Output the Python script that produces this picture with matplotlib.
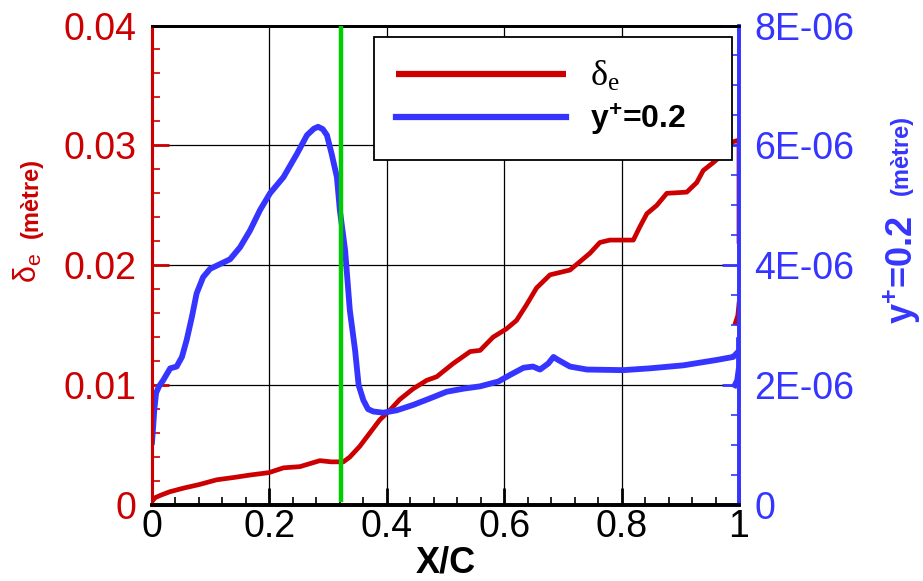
import numpy as np
import matplotlib
matplotlib.use("Agg")
import matplotlib.pyplot as plt
from matplotlib.ticker import MultipleLocator, AutoMinorLocator, FuncFormatter

plt.rcParams['font.family'] = ['Liberation Sans', 'DejaVu Sans']

# delta_e (left axis, metre)
red_x = [0.0, 0.005, 0.014, 0.03, 0.053, 0.08, 0.11, 0.14, 0.167, 0.199, 0.224, 0.252,
         0.286, 0.305, 0.326, 0.337, 0.354, 0.371, 0.388, 0.405, 0.422, 0.445, 0.468,
         0.485, 0.513, 0.542, 0.559, 0.581, 0.604, 0.621, 0.638, 0.655, 0.678, 0.712,
         0.729, 0.746, 0.763, 0.780, 0.820, 0.831, 0.843, 0.860, 0.877, 0.911, 0.928,
         0.939, 0.957, 0.971, 0.979, 0.990, 0.997, 1.0, 1.0]
red_y = [0.0003, 0.0006, 0.0008, 0.0011, 0.0014, 0.0017, 0.0021, 0.0023, 0.0025, 0.0027,
         0.0031, 0.0032, 0.0037, 0.0036, 0.0036, 0.0040, 0.0049, 0.0060, 0.0071, 0.0079,
         0.0088, 0.0097, 0.0104, 0.0107, 0.0118, 0.0128, 0.0129, 0.0140, 0.0147, 0.0154,
         0.0167, 0.0181, 0.0192, 0.0196, 0.0203, 0.0210, 0.0219, 0.0221, 0.0221, 0.0232,
         0.0243, 0.0250, 0.0260, 0.0261, 0.0269, 0.0279, 0.0286, 0.0292, 0.0300, 0.0303,
         0.0304, 0.0304, 0.0218]
red_te_x = [0.994, 0.998, 1.0]
red_te_y = [0.0152, 0.0158, 0.0168]

# y+=0.2 (right axis, metre)
blue_x = [0.0, 0.002, 0.004, 0.007, 0.012, 0.019, 0.031, 0.042, 0.051, 0.059, 0.068, 0.076,
          0.087, 0.099, 0.116, 0.133, 0.150, 0.167, 0.184, 0.201, 0.224, 0.247, 0.264,
          0.276, 0.283, 0.291, 0.298, 0.306, 0.315, 0.320, 0.329, 0.337, 0.346, 0.352,
          0.360, 0.368, 0.377, 0.394, 0.417, 0.445, 0.474, 0.502, 0.530, 0.559, 0.590,
          0.610, 0.633, 0.649, 0.661, 0.675, 0.684, 0.692, 0.712, 0.741, 0.803, 0.848,
          0.905, 0.962, 0.990, 0.996]
blue_y = np.array([1.05, 1.31, 1.60, 1.87, 1.98, 2.08, 2.28, 2.31, 2.47, 2.75, 3.14, 3.53,
                   3.80, 3.94, 4.02, 4.10, 4.30, 4.58, 4.92, 5.20, 5.47, 5.86, 6.17,
                   6.28, 6.31, 6.27, 6.17, 5.86, 5.47, 4.92, 4.25, 3.25, 2.58, 2.00,
                   1.75, 1.60, 1.56, 1.54, 1.58, 1.67, 1.78, 1.89, 1.94, 1.98, 2.06,
                   2.17, 2.29, 2.31, 2.26, 2.36, 2.47, 2.42, 2.31, 2.26, 2.25, 2.28,
                   2.33, 2.42, 2.47, 2.53]) * 1e-6
blue_te_x = [0.993, 0.997, 1.0, 1.0]
blue_te_y = np.array([2.0, 2.08, 2.3, 2.75]) * 1e-6

sep_x = 0.322

red = '#cc0000'
blue = '#3535ff'
green = '#00cc00'

fig = plt.figure(figsize=(9.23, 5.81), dpi=100)
ax = fig.add_axes([152/923, 1-505/581, 587/923, 479.5/581])
ax2 = ax.twinx()

l1, = ax.plot(red_x, red_y, color=red, lw=3.4, solid_capstyle='butt')
ax.plot(red_te_x, red_te_y, color=red, lw=3.4)
l2, = ax2.plot(blue_x, blue_y, color=blue, lw=4.2)
ax2.plot(blue_te_x, blue_te_y, color=blue, lw=4.2)
ax2.axvline(sep_x, ymin=0.01, ymax=1, color=green, lw=3.2, zorder=5)

ax.set_xlim(0, 1)
ax.set_ylim(0, 0.04)
ax2.set_ylim(0, 8e-6)

ax.xaxis.set_major_locator(MultipleLocator(0.2))
ax.xaxis.set_minor_locator(AutoMinorLocator(5))
ax.yaxis.set_major_locator(MultipleLocator(0.01))
ax.yaxis.set_minor_locator(AutoMinorLocator(5))
ax2.yaxis.set_major_locator(MultipleLocator(2e-6))
ax2.yaxis.set_minor_locator(AutoMinorLocator(4))

ax.xaxis.set_major_formatter(FuncFormatter(lambda v, p: '%g' % round(v, 3)))
ax.yaxis.set_major_formatter(FuncFormatter(lambda v, p: '%g' % round(v, 4)))
ax2.yaxis.set_major_formatter(FuncFormatter(lambda v, p: '0' if abs(v) < 1e-12 else '%.0E' % v))

ax.grid(True, which='major', color='black', lw=0.9)

ax.tick_params(axis='x', which='both', direction='in', colors='black', labelsize=27, pad=3)
ax.tick_params(axis='x', which='major', length=12, width=2)
ax.tick_params(axis='x', which='minor', length=6, width=1.2)
ax.tick_params(axis='y', which='both', direction='in', colors=red, labelsize=27, pad=11)
ax.tick_params(axis='y', which='major', length=12, width=2)
ax.tick_params(axis='y', which='minor', length=6, width=1.2)
ax2.tick_params(axis='y', which='both', direction='in', colors=blue, labelsize=27, pad=11)
ax2.tick_params(axis='y', which='major', length=12, width=2)
ax2.tick_params(axis='y', which='minor', length=6, width=1.2)

for a in (ax, ax2):
    a.spines['left'].set_color(red)
    a.spines['right'].set_color(blue)
    a.spines['top'].set_color('black')
    a.spines['bottom'].set_color('black')
    a.spines['left'].set_linewidth(2.2)
    a.spines['right'].set_linewidth(2.6)
    a.spines['top'].set_linewidth(2)
    a.spines['bottom'].set_linewidth(2.6)

ax.set_xlabel('X/C', fontsize=26, fontweight='bold', labelpad=0)

fig.text(28/923, 1-268/581, r'$\mathregular{δ_e}$', color=red, fontsize=22,
         rotation=90, ha='center', va='center')
fig.text(31/923, 1-198/581, '(mètre)', color=red, fontsize=17, fontweight='bold',
         rotation=90, ha='center', va='center')
fig.text(902/923, 1-270/581, r'$\mathregular{y^{+}}$=0.2', color=blue, fontsize=26,
         fontweight='bold', rotation=90, ha='center', va='center')
fig.text(901/923, 1-155/581, '(mètre)', color=blue, fontsize=17, fontweight='bold',
         rotation=90, ha='center', va='center')

leg = ax2.legend([l1, l2], [r'$\mathregular{δ_e}$', r'$\mathregular{y^{+}}$=0.2'],
                 loc='upper left', bbox_to_anchor=(0.378, 0.757, 0.61, 0.219),
                 mode='expand', borderaxespad=0, fontsize=23, fancybox=False,
                 framealpha=1, edgecolor='black', handlelength=5.3,
                 handletextpad=0.75, borderpad=0.7, labelspacing=0.25)
leg.get_frame().set_linewidth(1.3)
leg.set_zorder(10)
texts = leg.get_texts()
texts[0].set_family(['Liberation Serif', 'DejaVu Serif'])
texts[0].set_fontsize(26)
texts[1].set_fontweight('bold')
for h in leg.legend_handles:
    h.set_linewidth(4.5)

fig.savefig('out.png', dpi=100)
